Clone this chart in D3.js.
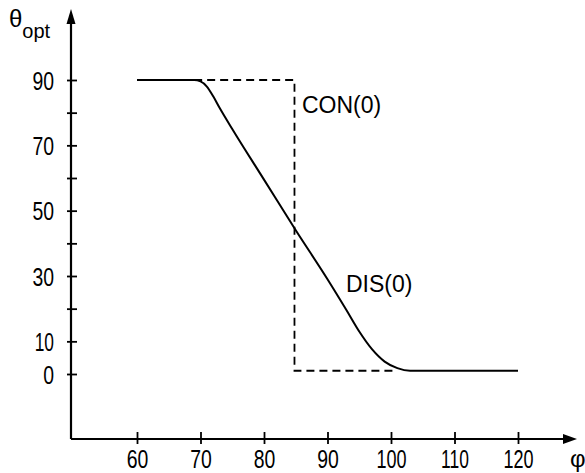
<!DOCTYPE html>
<html>
<head>
<meta charset="utf-8">
<script src="https://cdn.jsdelivr.net/npm/d3@7"></script>
<style>
  html, body { margin: 0; padding: 0; background: #fff; }
  svg { display: block; }
  text { font-family: "Liberation Sans", Arial, sans-serif; fill: #000; }
</style>
</head>
<body>
<svg id="chart" width="585" height="473"></svg>
<script>
// Optimal angle θ_opt versus φ for the two cases
const disPhi   = [60, 69, 70, 71, 72, 73, 75, 80, 85, 90, 93, 95, 97, 99, 101, 103, 110, 120];
const disTheta = [90, 90, 89.6, 88, 85, 81.5, 75, 59.5, 44, 29, 19.5, 13, 7.6, 3.8, 1.8, 1, 1, 1];
const conPhi   = [69, 84.8, 84.8, 101];
const conTheta = [90, 90, 1, 1];
const xTicks = [60, 70, 80, 90, 100, 110, 120];
const yTicks = [0, 10, 20, 30, 40, 50, 60, 70, 80, 90];
const yLabels = [0, 10, 30, 50, 70, 90];

const svg = d3.select("#chart");
const x = d3.scaleLinear().domain([60, 120]).range([137, 518]);
const y = d3.scaleLinear().domain([0, 90]).range([374, 80]);
const axisX0 = 71, axisY0 = 439;

// narrow digit widths for tick labels
const labelWidth = s => String(s).split("").reduce((w, c) => w + (c === "1" ? 8.5 : 10.8), 0);

// x axis
const gx = svg.append("g").attr("transform", `translate(0,${axisY0})`)
  .call(d3.axisBottom(x).tickValues(xTicks).tickSize(0));
gx.select(".domain").remove();
gx.selectAll(".tick line").attr("y1", -7).attr("y2", 5).attr("stroke", "#000").attr("stroke-width", 1.8);
gx.selectAll(".tick text").attr("font-size", 25).attr("dy", 0).attr("y", 29)
  .attr("textLength", d => labelWidth(d)).attr("lengthAdjust", "spacingAndGlyphs");
svg.append("line").attr("x1", axisX0).attr("x2", 566).attr("y1", axisY0).attr("y2", axisY0)
  .attr("stroke", "#000").attr("stroke-width", 2.2);
svg.append("path").attr("d", `M577,${axisY0} L563,${axisY0 - 5} L563,${axisY0 + 5} Z`).attr("fill", "#000");

// y axis
const gy = svg.append("g").attr("transform", `translate(${axisX0},0)`)
  .call(d3.axisLeft(y).tickValues(yTicks).tickSize(0).tickPadding(17)
    .tickFormat(d => yLabels.includes(d) ? d : ""));
gy.select(".domain").remove();
gy.selectAll(".tick line").attr("x1", -4).attr("x2", 6).attr("stroke", "#000").attr("stroke-width", 1.8);
gy.selectAll(".tick text").attr("font-size", 25).attr("dy", "0.36em")
  .filter(d => yLabels.includes(d))
  .attr("textLength", d => labelWidth(d)).attr("lengthAdjust", "spacingAndGlyphs");
svg.append("line").attr("x1", axisX0).attr("x2", axisX0).attr("y1", axisY0).attr("y2", 22)
  .attr("stroke", "#000").attr("stroke-width", 2.2);
svg.append("path").attr("d", `M${axisX0},9 L${axisX0 - 4.5},24 L${axisX0 + 4.5},24 Z`).attr("fill", "#000");

// axis titles
const yt = svg.append("text").attr("x", 9).attr("y", 27).attr("font-size", 24);
yt.append("tspan").text("θ");
yt.append("tspan").attr("font-size", 20).attr("dy", 11).text("opt");
svg.append("text").attr("x", 570).attr("y", 467).attr("font-size", 24).text("φ");

// curves
const line = d3.line().x(d => x(d[0])).y(d => y(d[1]));
svg.append("path")
  .datum(conPhi.map((p, i) => [p, conTheta[i]]))
  .attr("d", line)
  .attr("fill", "none").attr("stroke", "#000").attr("stroke-width", 1.8)
  .attr("stroke-dasharray", "8,5");
svg.append("path")
  .datum(disPhi.map((p, i) => [p, disTheta[i]]))
  .attr("d", line.curve(d3.curveMonotoneX))
  .attr("fill", "none").attr("stroke", "#000").attr("stroke-width", 2);

// curve labels
svg.append("text").attr("x", 302).attr("y", 113).attr("font-size", 23).text("CON(0)");
svg.append("text").attr("x", 346).attr("y", 292).attr("font-size", 23).text("DIS(0)");
</script>
</body>
</html>
